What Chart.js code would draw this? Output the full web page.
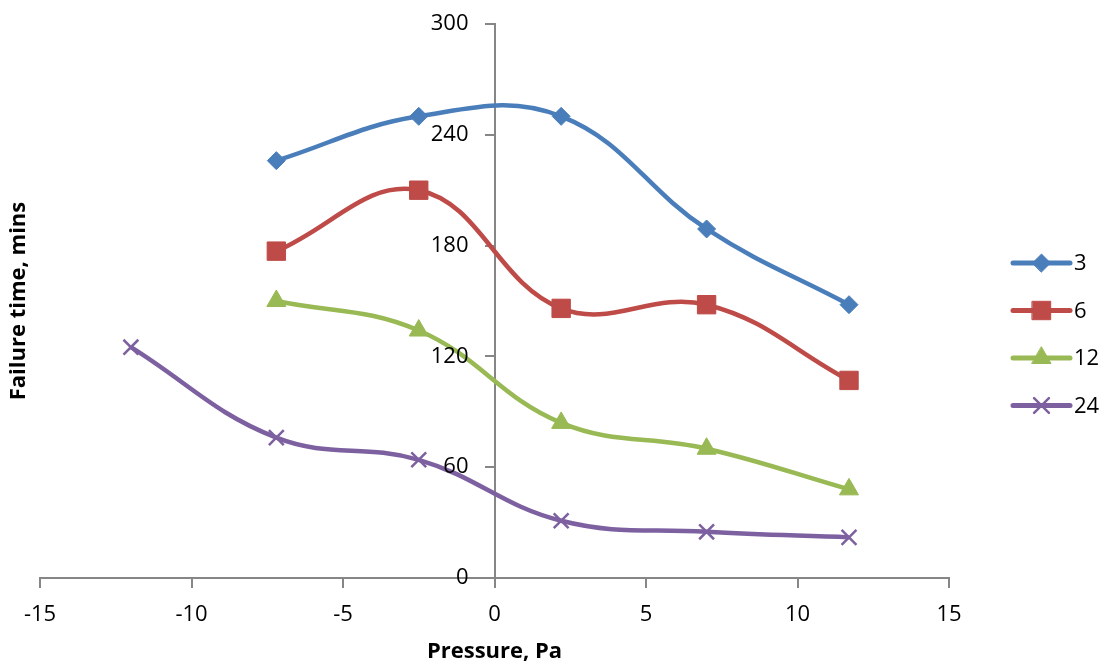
<!DOCTYPE html>
<html>
<head>
<meta charset="utf-8">
<script src="https://cdn.jsdelivr.net/npm/chart.js@4"></script>
<style>
  html, body { margin: 0; padding: 0; background: #fff; }
  #wrap { width: 1107px; height: 666px; }
</style>
</head>
<body>
<div id="wrap"><canvas id="failChart" width="1107" height="666"></canvas></div>
<script>
// Data
const seriesNames = ["3", "6", "12", "24"];
const pressure = [-7.2, -2.5, 2.2, 7.0, 11.7];
const pressure24 = [-12.0, -7.2, -2.5, 2.2, 7.0, 11.7];
const time3 = [226, 250, 250, 189, 148];
const time6 = [177, 210, 146, 148, 107];
const time12 = [150, 134, 84, 70, 48];
const time24 = [125, 76, 64, 31, 25, 22];
const xTicks = [-15, -10, -5, 0, 5, 10, 15];
const yTicks = [0, 60, 120, 180, 240, 300];

const colors = ["#4A7EBB", "#BE4B48", "#98B954", "#7D60A0"];
const markers = ["rectRot", "rect", "triangle", "crossRot"];
const markerSizes = [9, 13, 11, 10.5];

function toPoints(xs, ys) {
  return xs.map((x, i) => ({ x: x, y: ys[i] }));
}

const seriesData = [
  toPoints(pressure, time3),
  toPoints(pressure, time6),
  toPoints(pressure, time12),
  toPoints(pressure24, time24),
];

const datasets = seriesNames.map((name, i) => ({
  label: name,
  data: seriesData[i],
  borderColor: colors[i],
  backgroundColor: colors[i],
  borderWidth: 4.5,
  pointStyle: markers[i],
  pointRadius: markerSizes[i],
  pointBorderWidth: i === 3 ? 2.5 : 1,
  pointBorderColor: colors[i],
  pointBackgroundColor: colors[i],
  tension: 0.4,
  fill: false,
}));

const fontFamily = "'Open Sans', Lato, sans-serif";
const axisGrey = "#868686";

// Y tick labels (right-aligned left of the x=0 axis), axis titles and legend
const extrasPlugin = {
  id: "extras",
  afterDraw(chart) {
    const ctx = chart.ctx;
    const area = chart.chartArea;
    const xScale = chart.scales.x;
    const yScale = chart.scales.y;
    const axisX = xScale.getPixelForValue(0);

    ctx.save();
    ctx.fillStyle = "#000";
    ctx.font = "22px " + fontFamily;
    ctx.textAlign = "right";
    ctx.textBaseline = "middle";
    yTicks.forEach((v) => {
      ctx.fillText(String(v), axisX - 26, yScale.getPixelForValue(v));
    });

    ctx.font = "bold 22px " + fontFamily;
    ctx.textAlign = "center";
    ctx.fillText("Pressure, Pa", (area.left + area.right) / 2, 652);
    ctx.translate(19, (area.top + area.bottom) / 2);
    ctx.rotate(-Math.PI / 2);
    ctx.fillText("Failure time, mins", 0, 0);
    ctx.restore();

    // legend
    ctx.save();
    const x1 = 1013, x2 = 1070, top = 263, step = 47.5;
    chart.data.datasets.forEach((ds, i) => {
      const y = top + i * step;
      ctx.strokeStyle = ds.borderColor;
      ctx.lineWidth = 5;
      ctx.lineCap = "round";
      ctx.beginPath();
      ctx.moveTo(x1, y);
      ctx.lineTo(x2, y);
      ctx.stroke();
      ctx.fillStyle = ds.backgroundColor;
      ctx.strokeStyle = ds.borderColor;
      ctx.lineWidth = ds.pointBorderWidth;
      Chart.helpers.drawPoint(ctx, {
        pointStyle: ds.pointStyle,
        radius: ds.pointRadius,
        rotation: 0,
        borderWidth: ds.pointBorderWidth,
      }, (x1 + x2) / 2, y);
      ctx.fillStyle = "#000";
      ctx.font = "22px " + fontFamily;
      ctx.textAlign = "left";
      ctx.textBaseline = "middle";
      ctx.fillText(ds.label, x2 + 4, y + 1);
    });
    ctx.restore();
  },
};

const ctx = document.getElementById("failChart").getContext("2d");
new Chart(ctx, {
  type: "line",
  data: { datasets: datasets },
  options: {
    responsive: false,
    animation: false,
    layout: { padding: { left: 40, right: 158, top: 24, bottom: 88 } },
    plugins: {
      legend: { display: false },
      tooltip: { enabled: false },
    },
    scales: {
      x: {
        type: "linear",
        position: { y: 0 },
        min: -15,
        max: 15,
        afterBuildTicks: (axis) => { axis.ticks = xTicks.map((v) => ({ value: v })); },
        ticks: { color: "#000", font: { family: fontFamily, size: 22 }, padding: 15 },
        grid: { drawOnChartArea: false, color: axisGrey, lineWidth: 2, tickLength: 9 },
        border: { color: axisGrey, width: 2 },
      },
      y: {
        type: "linear",
        position: { x: 0 },
        min: 0,
        max: 300,
        afterBuildTicks: (axis) => { axis.ticks = yTicks.map((v) => ({ value: v })); },
        ticks: { display: false },
        grid: { drawOnChartArea: false, color: axisGrey, lineWidth: 2, tickLength: 9 },
        border: { color: axisGrey, width: 2 },
      },
    },
  },
  plugins: [extrasPlugin],
});
</script>
</body>
</html>
